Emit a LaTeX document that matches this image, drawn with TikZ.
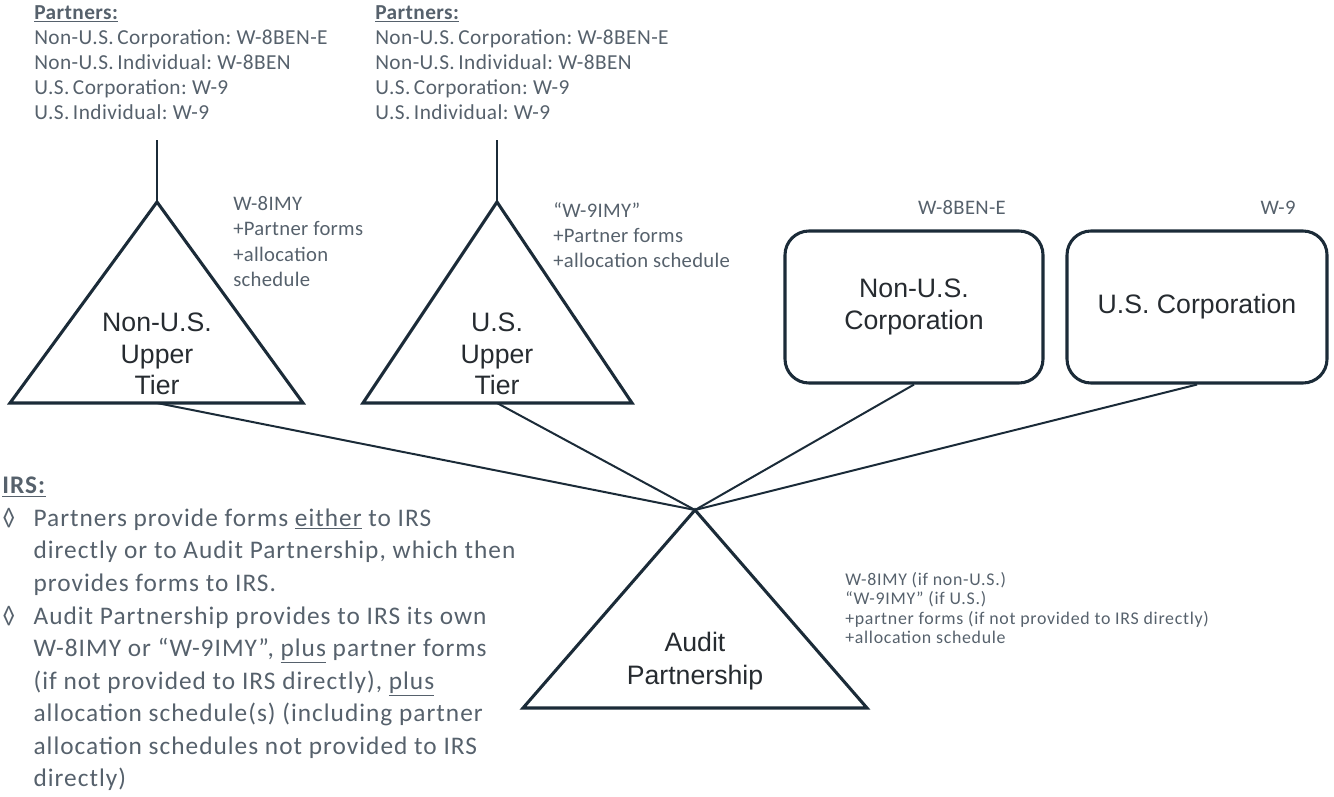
\documentclass[tikz,border=0pt]{standalone}
\usepackage{fontspec}
\setmainfont{Carlito}
\newfontfamily\arialfont{Liberation Sans}
\newfontfamily\partnerfont[LetterSpace=2]{Carlito}
\newfontfamily\irsfont[LetterSpace=4]{Carlito}
\newfontfamily\notefont[LetterSpace=1.5]{Carlito}
\newfontfamily\smallfont[LetterSpace=4]{Carlito}
\usepackage{tikz}
\usetikzlibrary{positioning, calc}

\definecolor{lineblue}{HTML}{1B2B38}
\definecolor{notegray}{HTML}{56616C}
\definecolor{labeldark}{HTML}{262B30}
\newlength{\bulw}
\setlength{\bulw}{23.5pt}
\frenchspacing

\begin{document}
\begin{tikzpicture}[
    x=0.75pt, y=-0.75pt,
    shapeline/.style={draw=lineblue, line width=2.3pt, line join=miter},
    linkline/.style={draw=lineblue, line width=1.5pt},
    stemline/.style={draw=lineblue, line width=1.8pt},
    entitybox/.style={draw=lineblue, line width=2.3pt, rounded corners=18pt, minimum height=114pt, inner sep=0pt, align=center, text=labeldark, font=\arialfont\fontsize{20}{23.5}\selectfont},
    tierlabel/.style={align=center, inner sep=0pt, text=labeldark, font=\arialfont\fontsize{20}{23.5}\selectfont},
    partnerlist/.style={anchor=north west, align=left, inner sep=0pt, text=notegray, font=\partnerfont\fontsize{16}{18.9}\selectfont},
    formnote/.style={anchor=north west, align=left, inner sep=0pt, text=notegray, font=\notefont\fontsize{15.5}{19}\selectfont},
    smallnote/.style={anchor=north west, align=left, inner sep=0pt, text=notegray, font=\smallfont\fontsize{13.4}{14.6}\selectfont}
]
    \useasboundingbox (0,0) rectangle (1334,796);

    % Upper tiers
    \coordinate (t1top) at (157,202);
    \coordinate (t1base) at (157,403);
    \coordinate (t1stem) at (157,140);
    \draw[shapeline] (t1top) -- (303,403) -- (10,403) -- cycle;
    \draw[stemline] (t1stem) -- (t1top);
    \node[tierlabel] (t1label) at (157,354) {Non-U.S.\\Upper\\Tier};

    \coordinate (t2top) at (497,202);
    \coordinate (t2base) at (497,403);
    \coordinate (t2stem) at (497,140);
    \draw[shapeline] (t2top) -- (632,403) -- (363,403) -- cycle;
    \draw[stemline] (t2stem) -- (t2top);
    \node[tierlabel] (t2label) at (497,354) {U.S.\\Upper\\Tier};

    % Corporations
    \node[entitybox, minimum width=193.5pt] (ncorp) at (914,307) {Non-U.S.\\Corporation};
    \node[entitybox, minimum width=195pt] (ucorp) at (1197,307) {U.S. Corporation};

    % Audit partnership
    \coordinate (apex) at (695,510);
    \draw[shapeline] (apex) -- (867,708) -- (523,708) -- cycle;
    \node[tierlabel, font=\arialfont\fontsize{20}{24.6}\selectfont] (alabel) at (695,661) {Audit\\Partnership};

    \draw[linkline] (t1base) -- (apex);
    \draw[linkline] (t2base) -- (apex);
    \draw[linkline] (ncorp.south) -- (apex);
    \draw[linkline] (ucorp.south) -- (apex);

    % Partner lists
    \node[partnerlist] (plist1) at (34,5) {\underline{\textbf{Partners:}}\\Non-U.S.\,Corporation: W-8BEN-E\\Non-U.S.\,Individual: W-8BEN\\U.S.\,Corporation: W-9\\U.S.\,Individual: W-9};
    \node[partnerlist] (plist2) at (375,5) {\underline{\textbf{Partners:}}\\Non-U.S.\,Corporation: W-8BEN-E\\Non-U.S.\,Individual: W-8BEN\\U.S.\,Corporation: W-9\\U.S.\,Individual: W-9};

    % Forms
    \node[formnote] (f1) at (233,196) {W-8IMY\\+Partner forms\\+allocation\\schedule};
    \node[formnote] (f2) at (553,202) {“W-9IMY”\\+Partner forms\\+allocation schedule};
    \node[text=notegray, font=\notefont\fontsize{15.5}{19}\selectfont, inner sep=0pt] (f3) at (962,208) {W-8BEN-E};
    \node[text=notegray, font=\notefont\fontsize{15.5}{19}\selectfont, inner sep=0pt] (f4) at (1278,208) {W-9};
    \node[smallnote] (f5) at (845,572) {W-8IMY (if non-U.S.)\\“W-9IMY” (if U.S.)\\+partner forms (if not provided to IRS directly)\\+allocation schedule};

    % IRS
    \node[anchor=north west, align=left, inner sep=0pt, text=notegray, font=\irsfont\fontsize{19}{24.4}\selectfont] (irs) at (2,477) {\underline{\textbf{IRS:}}\\
        \makebox[\bulw][l]{◊}Partners provide forms \underline{either} to IRS\\
        \hspace*{\bulw}directly or to Audit Partnership, which then\\
        \hspace*{\bulw}provides forms to IRS.\\
        \makebox[\bulw][l]{◊}Audit Partnership provides to IRS its own\\
        \hspace*{\bulw}W-8IMY or “W-9IMY”, \underline{plus} partner forms\\
        \hspace*{\bulw}(if not provided to IRS directly), \underline{plus}\\
        \hspace*{\bulw}allocation schedule(s) (including partner\\
        \hspace*{\bulw}allocation schedules not provided to IRS\\
        \hspace*{\bulw}directly)};
\end{tikzpicture}
\end{document}
